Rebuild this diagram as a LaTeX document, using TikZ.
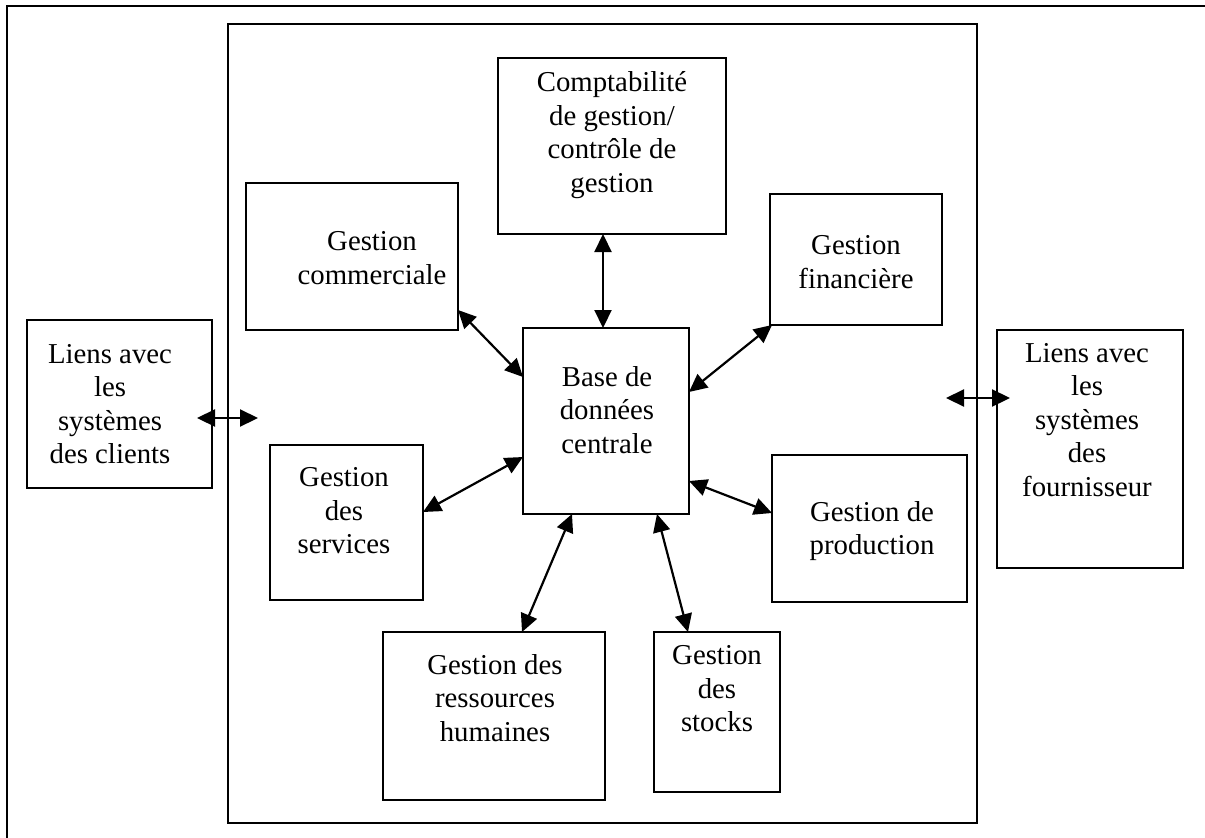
\documentclass[tikz,border=0pt]{standalone}
\usepackage{fontspec}
\setmainfont{Liberation Serif}
\usetikzlibrary{arrows.meta}
% box given by its left, top, right and bottom edges
\newcommand\mybox[5]{\node[box, minimum width={(#4)-(#2)}, minimum height={(#5)-(#3)}] (#1) at ({((#2)+(#4))/2},{((#3)+(#5))/2}) {};}
\begin{document}
\begin{tikzpicture}[x=1pt,y=-1pt,
  box/.style={draw, line width=2.2pt, inner sep=0pt, outer sep=0pt},
  txt/.style={align=center, font=\fontsize{28.8}{33.5}\selectfont, inner sep=0pt},
  link/.style={line width=2.2pt, {Triangle[length=18pt,width=17pt]}-{Triangle[length=18pt,width=17pt]}}]
\useasboundingbox (0,0) rectangle (1205,838);

% outer frame
\draw[line width=1.8pt] (1205,6) -- (7,6) -- (7,838);

% enterprise frame and modules
\mybox{frame}{228}{24}{977}{823}
\mybox{compta}{498}{58}{726}{234}
\mybox{comm}{246}{183}{458}{330}
\mybox{fin}{770}{194}{942}{325}
\mybox{base}{523}{328}{689}{514}
\mybox{clients}{27}{320}{212}{488}
\mybox{fourn}{997}{330}{1183}{568}
\mybox{serv}{270}{445}{423}{600}
\mybox{prod}{772}{455}{967}{602}
\mybox{rh}{383}{632}{605}{800}
\mybox{stock}{654}{632}{780}{792}

% labels
\node[txt] (compta-t) at (612,135) {Comptabilité\\de gestion/\\contrôle de\\gestion};
\node[txt] (comm-t) at (372,258) {Gestion\\commerciale};
\node[txt] (fin-t) at (856,262) {Gestion\\financière};
\node[txt] (base-t) at (607,410) {Base de\\données\\centrale};
\node[txt] (clients-t) at (110,404) {Liens avec\\les\\systèmes\\des clients};
\node[txt] (fourn-t) at (1087,420) {Liens avec\\les\\systèmes\\des\\fournisseur};
\node[txt] (serv-t) at (344,511) {Gestion\\des\\services};
\node[txt] (prod-t) at (872,531) {Gestion de\\production};
\node[txt] (rh-t) at (495,698) {Gestion des\\ressources\\humaines};
\node[txt] (stock-t) at (717,689) {Gestion\\des\\stocks};

% links to the central database
\draw[link] ([xshift=-9pt]compta.south) -- ([xshift=-3pt]base.north);
\draw[link] ([yshift=20pt]comm.south east) -- ([yshift=-49pt]base.north west);
\draw[link] ([xshift=2pt]fin.south west) -- ([yshift=-64pt]base.north east);
\draw[link] ([yshift=-67pt]serv.north east) -- ([yshift=-129pt]base.north west);
\draw[link] ([yshift=-153pt]base.north east) -- ([yshift=-58pt]prod.north west);
\draw[link] ([xshift=49pt]base.south west) -- ([xshift=139pt]rh.north west);
\draw[link] ([xshift=134pt]base.south west) -- ([xshift=34pt]stock.north west);

% links to outside systems
\draw[link] ([shift={(-31pt,5.5pt)}]frame.west) -- ([shift={(30pt,5.5pt)}]frame.west);
\draw[link] ([shift={(-31pt,25.5pt)}]frame.east) -- ([shift={(33pt,25.5pt)}]frame.east);
\end{tikzpicture}
\end{document}
